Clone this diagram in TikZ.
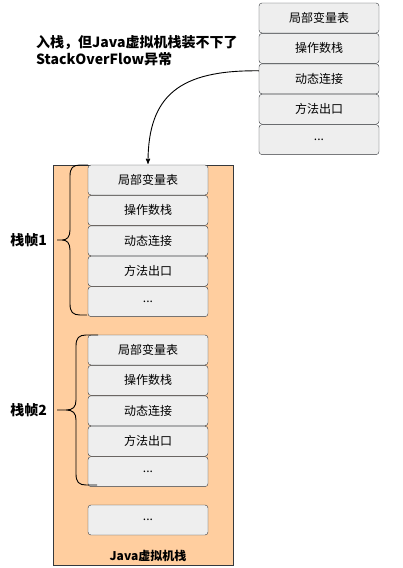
\documentclass[tikz,border=0pt]{standalone}
\usepackage{fontspec}
\setmainfont{Noto Sans CJK SC}
\usetikzlibrary{arrows,positioning}
\definecolor{cellgray}{HTML}{EEEEEE}
\definecolor{edgegray}{HTML}{36393D}
\definecolor{jvmorange}{HTML}{FFCE9F}

\begin{document}
\begin{tikzpicture}[x=1pt,y=-1pt,->,>=stealth',shorten >=1pt,
  cell/.style={-,draw=edgegray,fill=cellgray,rounded corners=3pt,minimum width=120pt,
    minimum height=30pt,inner sep=0pt,font=\fontsize{12}{14}\selectfont},
  jvm box/.style={-,draw=edgegray,fill=jvmorange,minimum width=180pt,minimum height=400pt,inner sep=0pt},
  frame label/.style={font=\fontsize{14}{17}\selectfont\bfseries,inner sep=0pt},
  brace line/.style={-,line width=0.9pt,black}]
\useasboundingbox (0,0) rectangle (403,568);

% java virtual machine stack
\node[jvm box](jvm) at (143,365) {};
\node[font=\fontsize{12}{14}\selectfont\bfseries,inner sep=0pt](jvmname) at (148,556) {Java虚拟机栈};

% stack frame 1
\node[cell](f1a) at (148,180) {局部变量表};
\node[cell,below=0pt of f1a](f1b) {操作数栈};
\node[cell,below=0pt of f1b](f1c) {动态连接};
\node[cell,below=0pt of f1c](f1d) {方法出口};
\node[cell,below=0pt of f1d](f1e) {...};

% stack frame 2
\node[cell](f2a) at (148,350) {局部变量表};
\node[cell,below=0pt of f2a](f2b) {操作数栈};
\node[cell,below=0pt of f2b](f2c) {动态连接};
\node[cell,below=0pt of f2c](f2d) {方法出口};
\node[cell,below=0pt of f2d](f2e) {...};

\node[cell](rest) at (148,520) {...};

% new frame that does not fit
\node[cell](n1) at (319,18) {局部变量表};
\node[cell,below=0pt of n1](n2) {操作数栈};
\node[cell,below=0pt of n2](n3) {动态连接};
\node[cell,below=0pt of n3](n4) {方法出口};
\node[cell,below=0pt of n4](n5) {...};

% braces
\draw[brace line] (88,165) -- (80,165) .. controls (73,165) and (70,168) .. (70,176)
  -- (70,230) .. controls (70,237) and (67,240) .. (62,240) -- (57,240)
  (62,240) .. controls (67,240) and (70,243) .. (70,250) -- (70,304)
  .. controls (70,312) and (73,315) .. (80,315) -- (88,315);
\draw[brace line] (98,335) -- (86,335) .. controls (79,335) and (76,338) .. (76,346)
  -- (76,400) .. controls (76,407) and (73,410) .. (66,410) -- (57,410)
  (66,410) .. controls (73,410) and (76,413) .. (76,420) -- (76,474)
  .. controls (76,482) and (79,485) .. (86,485) -- (98,485);

\node[frame label,anchor=east](fr1) at (47,240) {栈帧1};
\node[frame label,anchor=east](fr2) at (47,410) {栈帧2};

\node[frame label,anchor=west,align=left](msg) at (36,51) {入栈，但Java虚拟机栈装不下了\\StackOverFlow异常};

\draw[line width=0.9pt] ([yshift=8pt]n3.west) .. controls (180,70) and (148,95) .. (f1a.north);
\end{tikzpicture}
\end{document}
